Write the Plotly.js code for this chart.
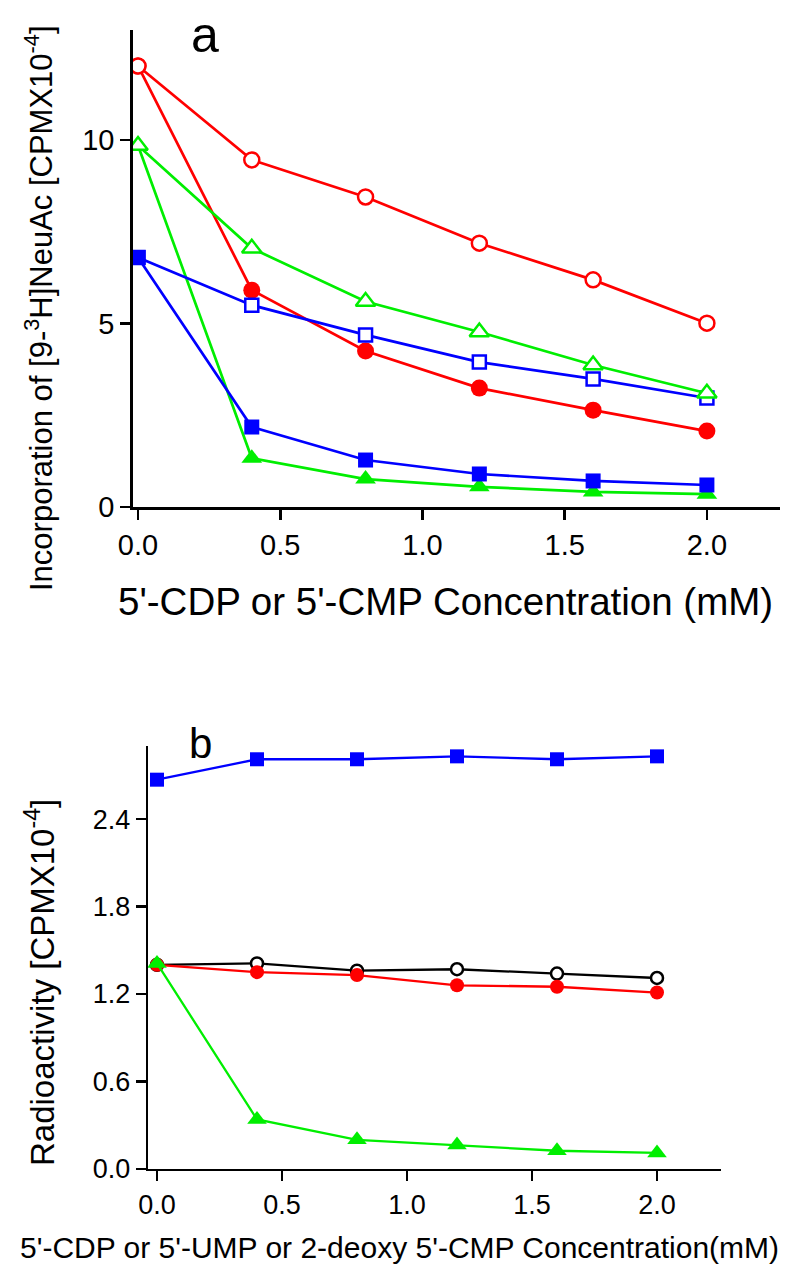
<!DOCTYPE html>
<html>
<head>
<meta charset="utf-8">
<script src="https://cdn.plot.ly/plotly-3.0.1.min.js"></script>
<style>html,body{margin:0;padding:0;background:#fff}#chart{width:800px;height:1282px}</style>
</head>
<body>
<div id="chart"></div>
<script>
// ---- Data: panel a ----
const concA = [0.0, 0.4, 0.8, 1.2, 1.6, 2.0];
const redOpenA   = [12.02, 9.46, 8.45, 7.19, 6.19, 5.01];
const redFilledA = [12.02, 5.91, 4.25, 3.24, 2.64, 2.07];
const greenOpenA   = [9.85, 7.05, 5.60, 4.77, 3.87, 3.10];
const greenFilledA = [9.85, 1.33, 0.76, 0.55, 0.41, 0.35];
const blueOpenA   = [6.80, 5.50, 4.69, 3.95, 3.49, 2.97];
const blueFilledA = [6.80, 2.18, 1.28, 0.90, 0.71, 0.60];

// ---- Data: panel b ----
const concB = [0.0, 0.4, 0.8, 1.2, 1.6, 2.0];
const blueB  = [2.67, 2.81, 2.81, 2.83, 2.81, 2.83];
const blackB = [1.40, 1.41, 1.36, 1.37, 1.34, 1.31];
const redB   = [1.40, 1.35, 1.33, 1.26, 1.25, 1.21];
const greenB = [1.41, 0.34, 0.20, 0.165, 0.125, 0.11];

// ---- Text ----
const xTitleA = "5'-CDP or 5'-CMP Concentration (mM)";
const yTitleA = "Incorporation of [9-<sup>3</sup>H]NeuAc [CPMX10<sup>-4</sup>]";
const xTitleB = "5'-CDP or 5'-UMP or 2-deoxy 5'-CMP Concentration(mM)";
const yTitleB = "Radioactivity [CPMX10<sup>-4</sup>]";

const RED = '#ff0000', GREEN = '#00ee00', BLUE = '#0000ff', BLACK = '#000000';
const FONT = 'Liberation Sans, Arial, Helvetica, sans-serif';
const W = 800, H = 1282;
const px = v => v / W, py = v => 1 - v / H;

function tr(x, y, color, symbol, open, size, axis, lw) {
  return {
    x: x, y: y, type: 'scatter', mode: 'lines+markers',
    xaxis: axis[0], yaxis: axis[1],
    line: {color: color, width: lw},
    marker: {symbol: symbol, size: size, color: open ? '#ffffff' : color,
             line: {color: color, width: open ? 2.5 : 0}},
    showlegend: false, hoverinfo: 'skip'
  };
}

const A = ['x', 'y'], B = ['x2', 'y2'];
const data = [
  tr(concA, redFilledA, RED, 'circle', false, 17, A, 2.7),
  tr(concA, greenFilledA, GREEN, 'triangle-up', false, 18, A, 2.7),
  tr(concA, blueOpenA, BLUE, 'square', true, 13, A, 2.7),
  tr(concA, blueFilledA, BLUE, 'square', false, 15, A, 2.7),
  tr(concA, greenOpenA, GREEN, 'triangle-up', true, 17, A, 2.7),
  tr(concA, redOpenA, RED, 'circle', true, 15, A, 2.7),

  tr(concB, blackB, BLACK, 'circle', true, 12, B, 2.3),
  tr(concB, redB, RED, 'circle', false, 14, B, 2.3),
  tr(concB, greenB, GREEN, 'triangle-up', false, 17, B, 2.3),
  tr(concB, blueB, BLUE, 'square', false, 14, B, 2.3)
];

const axBase = {
  showgrid: false, zeroline: false, showline: true, linecolor: '#000', linewidth: 2.7,
  ticks: 'outside', ticklen: 10, tickwidth: 2.7, tickcolor: '#000', fixedrange: true
};

const layout = {
  width: W, height: H,
  margin: {l: 0, r: 0, t: 0, b: 0},
  paper_bgcolor: '#fff', plot_bgcolor: '#fff',
  font: {family: FONT, color: '#000'},
  xaxis: Object.assign({}, axBase, {
    domain: [px(133), px(780)], range: [-0.0176, 2.257], anchor: 'y',
    tickvals: [0, 0.5, 1.0, 1.5, 2.0], tickformat: '.1f', tickfont: {size: 29, family: FONT}
  }),
  yaxis: Object.assign({}, axBase, {
    domain: [py(507), py(30)], range: [0, 13.0], anchor: 'x',
    tickvals: [0, 5, 10], tickfont: {size: 29, family: FONT}
  }),
  xaxis2: Object.assign({}, axBase, {
    domain: [px(148), px(721)], range: [-0.036, 2.256], anchor: 'y2', linewidth: 2.4, tickwidth: 2.4,
    tickvals: [0, 0.5, 1.0, 1.5, 2.0], tickformat: '.1f', tickfont: {size: 27, family: FONT}
  }),
  yaxis2: Object.assign({}, axBase, {
    domain: [py(1169), py(746)], range: [0, 2.901], anchor: 'x2', linewidth: 2.4, tickwidth: 2.4,
    tickvals: [0, 0.6, 1.2, 1.8, 2.4], tickformat: '.1f', tickfont: {size: 27, family: FONT}
  }),
  annotations: [
    {text: 'a', x: px(205), y: py(35), xref: 'paper', yref: 'paper', showarrow: false,
     xanchor: 'center', yanchor: 'middle', font: {size: 50, family: FONT}},
    {text: 'b', x: px(200), y: py(743), xref: 'paper', yref: 'paper', showarrow: false,
     xanchor: 'center', yanchor: 'middle', font: {size: 42, family: FONT}},
    {text: xTitleA, x: px(445), y: py(601), xref: 'paper', yref: 'paper', showarrow: false,
     xanchor: 'center', yanchor: 'middle', font: {size: 38.5, family: FONT}},
    {text: yTitleA, x: px(39), y: py(308), xref: 'paper', yref: 'paper', showarrow: false,
     textangle: -90, xanchor: 'center', yanchor: 'middle', font: {size: 31, family: FONT}},
    {text: xTitleB, x: px(399), y: py(1247), xref: 'paper', yref: 'paper', showarrow: false,
     xanchor: 'center', yanchor: 'middle', font: {size: 30, family: FONT}},
    {text: yTitleB, x: px(40), y: py(983), xref: 'paper', yref: 'paper', showarrow: false,
     textangle: -90, xanchor: 'center', yanchor: 'middle', font: {size: 33, family: FONT}}
  ]
};

Plotly.newPlot('chart', data, layout, {staticPlot: true, displayModeBar: false});
</script>
</body>
</html>
